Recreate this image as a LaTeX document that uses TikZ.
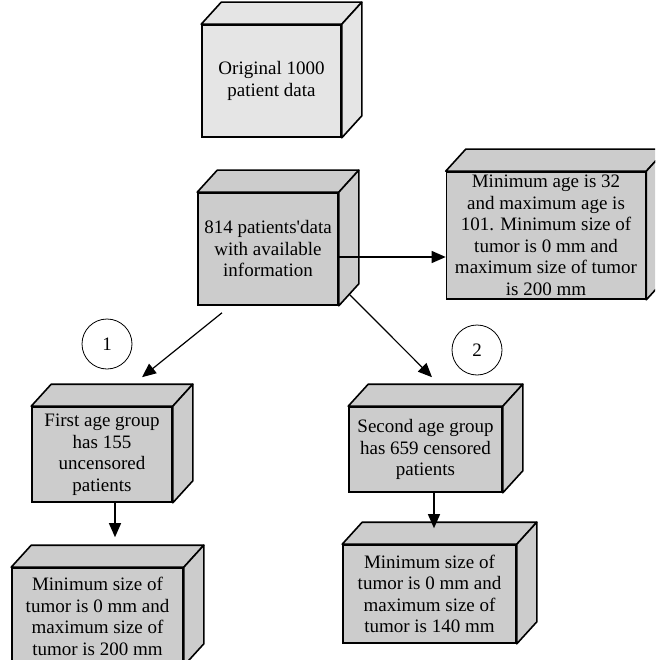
\documentclass[tikz,border=0pt]{standalone}
\usepackage{fontspec}
\setmainfont{Liberation Serif}
\usepackage{tikz}
\usetikzlibrary{arrows.meta}

\definecolor{boxgray}{gray}{0.8}
\definecolor{boxlight}{gray}{0.9}

\tikzset{
  cubebox/.style={draw, line width=1.6pt, fill=boxgray, align=center, inner sep=0pt,
    font=\fontsize{19}{21.5}\selectfont},
  face/.style={draw, line width=1.6pt, line join=round},
  arr/.style={line width=1.2pt, -{Triangle[length=14pt,width=12pt]}},
  numcircle/.style={draw, circle, line width=0.8pt, minimum size=50pt, inner sep=0pt,
    font=\fontsize{19}{21.5}\selectfont}
}

\begin{document}
\begin{tikzpicture}[x=1pt,y=-1pt]
    \useasboundingbox (0,0) rectangle (655,660);
    \clip (0,0) rectangle (655,660);
    \node[cubebox, fill=boxlight, minimum width=139pt, minimum height=112pt] (orig)
      at (271.5,81) {Original 1000\\patient data};
    \node[cubebox, minimum width=140pt, minimum height=112pt] (avail)
      at (268,249) {814 patients\textquotesingle data\\with available\\information};
    \node[cubebox, minimum width=199pt, minimum height=127pt] (range)
      at (546,235.5) {Minimum age is 32\\and maximum age is\\101. Minimum size of\\tumor is 0 mm and\\maximum size of tumor\\is 200 mm};
    \node[cubebox, minimum width=140pt, minimum height=95pt] (grpone)
      at (102,454.5) {First age group\\has 155\\uncensored\\patients};
    \node[cubebox, minimum width=153pt, minimum height=85pt] (grptwo)
      at (425.5,449.5) {Second age group\\has 659 censored\\patients};
    \node[cubebox, minimum width=171pt, minimum height=97pt] (resone)
      at (97.5,616.5) {Minimum size of\\tumor is 0 mm and\\maximum size of\\tumor is 200 mm};
    \node[cubebox, minimum width=173pt, minimum height=98pt] (restwo)
      at (429.5,594) {Minimum size of\\tumor is 0 mm and\\maximum size of\\tumor is 140 mm};
    \foreach \n/\c in {orig/boxlight,avail/boxgray,range/boxgray,grpone/boxgray,
        grptwo/boxgray,resone/boxgray,restwo/boxgray} {
      \draw[face, fill=\c] (\n.north west) -- ++(20,-22)
        -- ([shift={(20,-22)}]\n.north east) -- (\n.north east) -- cycle;
      \draw[face, fill=\c] (\n.north east) -- ++(20,-22)
        -- ([shift={(20,-22)}]\n.south east) -- (\n.south east) -- cycle;
    }
    \node[numcircle] (one) at (107,344) {1};
    \node[numcircle] (two) at (477,350) {2};
    \coordinate (rightarm) at ([yshift=-8pt]avail.east);
    \draw[arr] (rightarm) -- (rightarm -| range.west);
    \draw[arr] ([xshift=-46pt,yshift=-7pt]avail.south)
      -- ([xshift=40pt,yshift=29pt]grpone.north);
    \draw[arr] ([xshift=11pt,yshift=11pt]avail.south east)
      -- ([xshift=6.5pt,yshift=29pt]grptwo.north);
    \draw[arr] ([xshift=13pt]grpone.south) -- ([xshift=17.5pt,yshift=30pt]resone.north);
    \draw[arr] ([xshift=8.5pt]grptwo.south) -- ([xshift=4.5pt,yshift=16pt]restwo.north);
\end{tikzpicture}
\end{document}
